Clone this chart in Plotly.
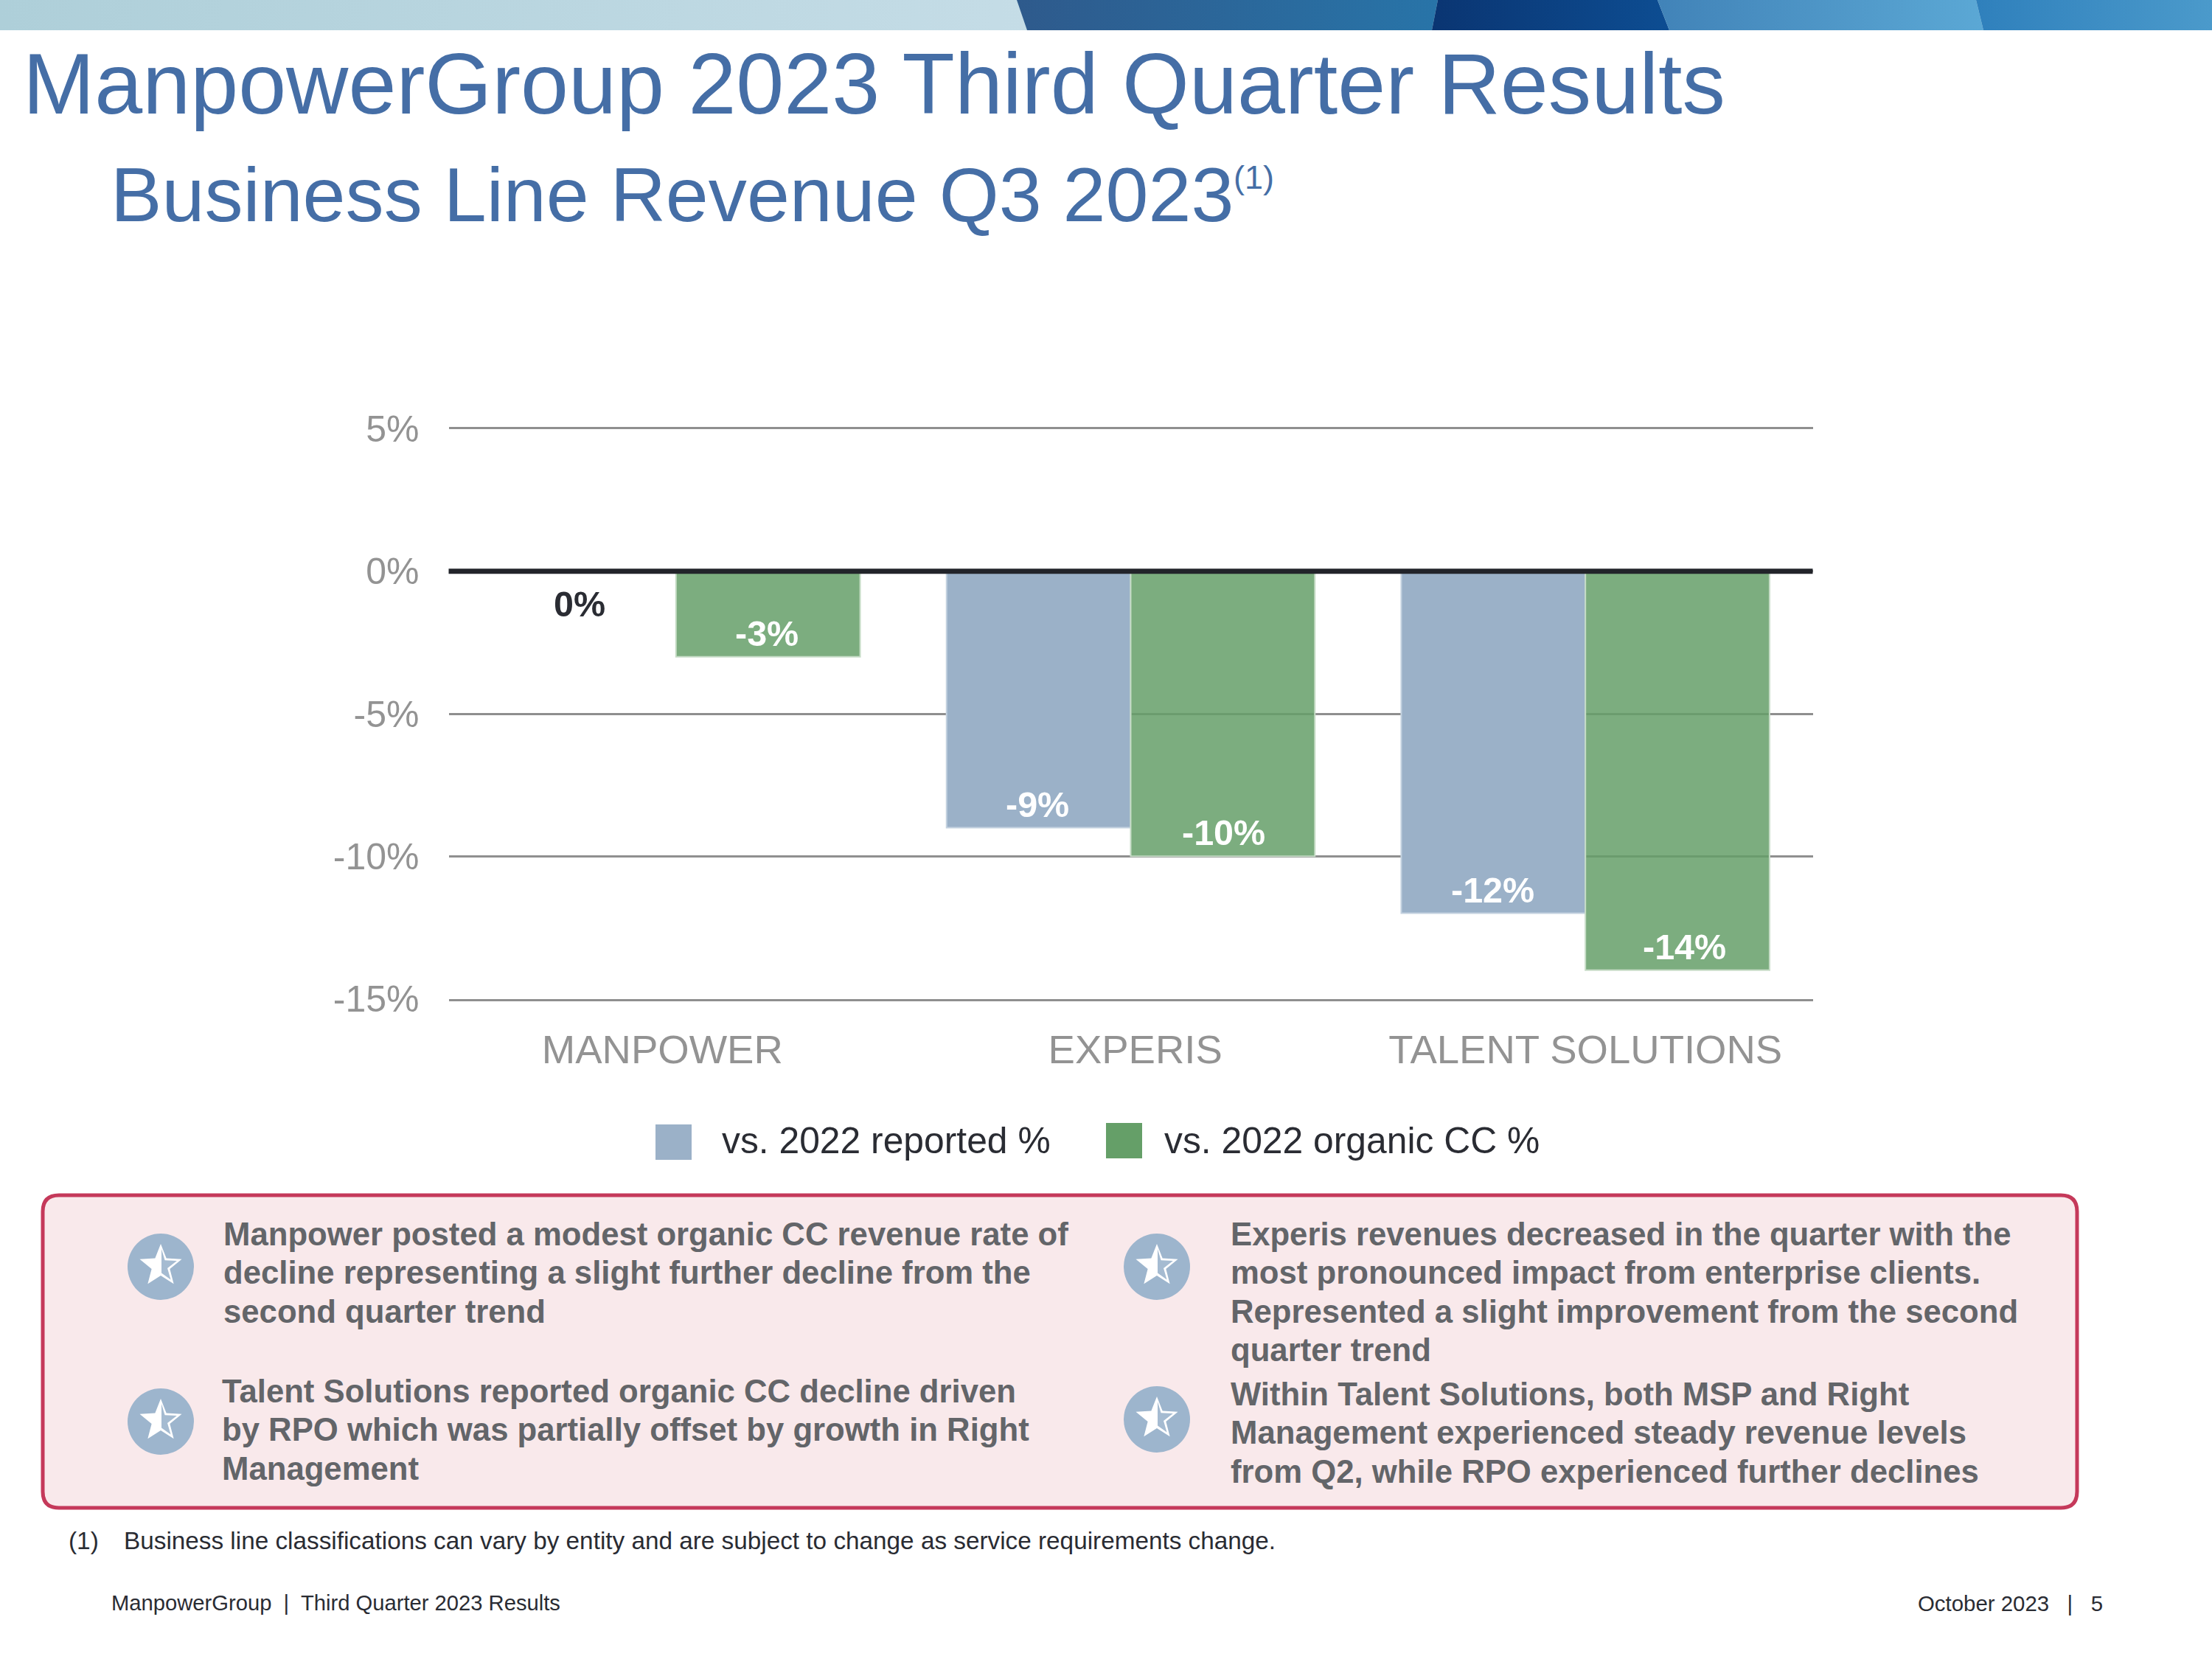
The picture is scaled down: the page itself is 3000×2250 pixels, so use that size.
import base64
import math
import plotly.graph_objects as go

# ---------- data ----------
categories = ["MANPOWER", "EXPERIS", "TALENT SOLUTIONS"]
reported = [0, -9, -12]
organic = [-3, -10, -14]
series_names = ["vs. 2022 reported %", "vs. 2022 organic CC %"]
y_ticks = [5, 0, -5, -10, -15]
y_labels = ["5%", "0%", "-5%", "-10%", "-15%"]
title_text = "ManpowerGroup 2023 Third Quarter Results"
subtitle_text = "Business Line Revenue Q3 2023"
bullet_tl = ["Manpower posted a modest organic CC revenue rate of",
             "decline representing a slight further decline from the",
             "second quarter trend"]
bullet_tr = ["Experis revenues decreased in the quarter with the",
             "most pronounced impact from enterprise clients.",
             "Represented a slight improvement from the second",
             "quarter trend"]
bullet_bl = ["Talent Solutions reported organic CC decline driven",
             "by RPO which was partially offset by growth in Right",
             "Management"]
bullet_br = ["Within Talent Solutions, both MSP and Right",
             "Management experienced steady revenue levels",
             "from Q2, while RPO experienced further declines"]
footnote_mark = "(1)"
footnote_text = "Business line classifications can vary by entity and are subject to change as service requirements change."
footer_left = "ManpowerGroup  |  Third Quarter 2023 Results"
footer_right = "October 2023   |   5"

# ---------- style / layout ----------
W, H = 3000, 2250
FONT = "Liberation Sans, Arial, sans-serif"
BLUE = "#9BB1C8"
GREEN = "#659F68"
GREEN_A = "rgba(101,159,104,0.85)"
TITLE_C = "#456EA6"
GREY = "#939393"
BODY = "#636569"
DARK = "#2A2C33"
PLOT_L, PLOT_R, PLOT_T, PLOT_B = 608.5, 2458.5, 581.5, 1354.5
BAR_W = 0.405


def X(p):
    return p / W


def Y(p):
    return 1 - p / H


annotations = []
shapes = []
images = []


def label(text, x, y, size, color, bold=False, anchor="left"):
    annotations.append(dict(
        text=f"<b>{text}</b>" if bold else text, xref="paper", yref="paper",
        x=X(x), y=Y(y), xanchor=anchor, yanchor="middle", showarrow=False,
        font=dict(family=FONT, size=size, color=color)))


# top banner (decorative gradient strip)
svg = f'''<svg xmlns="http://www.w3.org/2000/svg" width="3000" height="41" viewBox="0 0 3000 41">
<defs>
<linearGradient id="a"><stop offset="0" stop-color="#AECFD9"/><stop offset="0.45" stop-color="#C4DCE6"/><stop offset="1" stop-color="#DAE9EF"/></linearGradient>
<linearGradient id="b"><stop offset="0" stop-color="#2E5A8C"/><stop offset="1" stop-color="#2874A8"/></linearGradient>
<linearGradient id="c"><stop offset="0" stop-color="#0A3572"/><stop offset="1" stop-color="#0D4D92"/></linearGradient>
<linearGradient id="d"><stop offset="0" stop-color="#4183B8"/><stop offset="1" stop-color="#5BA8D5"/></linearGradient>
<linearGradient id="e"><stop offset="0" stop-color="#2F80BC"/><stop offset="1" stop-color="#4B9ACB"/></linearGradient>
</defs>
<rect width="3000" height="41" fill="url(#a)"/>
<polygon points="1379,0 1950,0 1942,41 1393,41" fill="url(#b)"/>
<polygon points="1950,0 2248,0 2264,41 1942,41" fill="url(#c)"/>
<polygon points="2248,0 2680,0 2690,41 2264,41" fill="url(#d)"/>
<polygon points="2680,0 3000,0 3000,41 2690,41" fill="url(#e)"/>
</svg>'''
images.append(dict(
    source="data:image/svg+xml;base64," + base64.b64encode(svg.encode()).decode(),
    xref="paper", yref="paper", x=0, y=1, sizex=1, sizey=41 / H,
    xanchor="left", yanchor="top", sizing="stretch", layer="below"))

# titles
label(title_text, 29, 114, 116.8, TITLE_C)
label(subtitle_text, 148, 264, 104.2, TITLE_C)
label(footnote_mark, 1671, 240, 45, TITLE_C)

# call-out box
x0, x1, y0, y1, r = 58, 2817, 1621, 2045, 22
shapes.append(dict(
    type="path", xref="paper", yref="paper", layer="below",
    path=(f"M{X(x0+r)},{Y(y0)} L{X(x1-r)},{Y(y0)} Q{X(x1)},{Y(y0)} {X(x1)},{Y(y0+r)} "
          f"L{X(x1)},{Y(y1-r)} Q{X(x1)},{Y(y1)} {X(x1-r)},{Y(y1)} "
          f"L{X(x0+r)},{Y(y1)} Q{X(x0)},{Y(y1)} {X(x0)},{Y(y1-r)} "
          f"L{X(x0)},{Y(y0+r)} Q{X(x0)},{Y(y0)} {X(x0+r)},{Y(y0)} Z"),
    fillcolor="#F9E9EB", line=dict(color="#C5395A", width=5)))


def star_path(cx, cy, R, ri, half=False):
    pts = []
    for i in range(10):
        rad = R if i % 2 == 0 else ri
        a = -math.pi / 2 + i * math.pi / 5
        pts.append((cx + rad * math.cos(a), cy + rad * math.sin(a)))
    if half:
        pts = [(max(cx + 1, px), py) for px, py in pts]
    return "M" + " L".join(f"{X(px)},{Y(py)}" for px, py in pts) + " Z"


def icon(cx, cy):
    R = 45
    shapes.append(dict(type="circle", xref="paper", yref="paper", layer="above",
                       x0=X(cx - R), x1=X(cx + R), y0=Y(cy + R), y1=Y(cy - R),
                       fillcolor="#9DB5CD", line=dict(width=0)))
    shapes.append(dict(type="path", xref="paper", yref="paper", layer="above",
                       path=star_path(cx, cy - 1, 30, 13), fillcolor="white", line=dict(width=0)))
    shapes.append(dict(type="path", xref="paper", yref="paper", layer="above",
                       path=star_path(cx, cy - 1, 23, 9.5, half=True), fillcolor="#A5BBD1", line=dict(width=0)))


for cx, cy in [(218, 1718), (1569, 1718), (218, 1928), (1569, 1925)]:
    icon(cx, cy)


def block(lines, x, y, step=52.6):
    for i, t in enumerate(lines):
        label(t, x, y + i * step, 43.7, BODY, bold=True)


block(bullet_tl, 301, 1673)
block(bullet_tr, 1667, 1673)
block(bullet_bl, 299, 1886)
block(bullet_br, 1667, 1890)

# footnote + footer
label(footnote_mark, 91, 2089, 33.4, DARK)
label(footnote_text, 166, 2089, 33.3, DARK)
label(footer_left, 149, 2174, 29.2, DARK)
label(footer_right, 2599, 2174, 29.4, DARK)

# legend with large swatches, as in the reference
for sx, sy, col, name, tx in [(889, 1525, BLUE, series_names[0], 977),
                              (1500, 1523, GREEN, series_names[1], 1577)]:
    shapes.append(dict(type="rect", xref="paper", yref="paper", x0=X(sx), x1=X(sx + 49),
                       y0=Y(sy + 48), y1=Y(sy), fillcolor=col, line=dict(width=0)))
    label(name, tx, 1547, 49.8, DARK)

# zero baseline drawn over the bars
shapes.append(dict(type="line", xref="x domain", yref="y", x0=0, x1=1, y0=0, y1=0,
                   layer="above", line=dict(color="#22242A", width=7)))

x_idx = list(range(len(categories)))
off = BAR_W / 2

fig = go.Figure()
fig.add_bar(x=x_idx, y=reported, name=series_names[0], offsetgroup=0,
            marker=dict(color=BLUE, line=dict(color="#C4D2E0", width=2)))
fig.add_bar(x=x_idx, y=organic, name=series_names[1], offsetgroup=1,
            marker=dict(color=GREEN_A, line=dict(color="#C6DCC6", width=2)))

# data labels
nudge = {(0, -1): -6, (0, 1): -2, (1, -1): -2, (1, 1): 1, (2, -1): -1, (2, 1): 9}
for i in x_idx:
    for val, sign in ((reported[i], -1), (organic[i], 1)):
        zero = val == 0
        annotations.append(dict(
            xref="x", yref="y", x=i + sign * off, y=val,
            yshift=-44 if zero else 32, xshift=nudge[(i, sign)],
            text=f"<b>{val}%</b>", showarrow=False,
            font=dict(family=FONT, size=48.5, color=DARK if zero else "white")))

fig.update_layout(
    width=W, height=H, margin=dict(l=0, r=0, t=0, b=0, pad=0, autoexpand=False),
    paper_bgcolor="white", plot_bgcolor="white",
    barmode="group", bargap=0.19, bargroupgap=0, showlegend=False,
    font=dict(family=FONT),
    annotations=annotations, shapes=shapes, images=images,
    xaxis=dict(domain=[X(PLOT_L), X(PLOT_R)], range=[-0.5, 2.5], showgrid=False, zeroline=False,
               showline=True, mirror=True, linecolor="#8F8F8F", linewidth=3,
               tickmode="array", tickvals=[-0.03, 1.01, 2], ticktext=categories, ticks="",
               tickfont=dict(family=FONT, size=54.5, color=GREY), ticklabelstandoff=19),
    yaxis=dict(domain=[Y(PLOT_B), Y(PLOT_T)], range=[-15, 5], zeroline=False,
               tickmode="array", tickvals=y_ticks, ticktext=y_labels, ticks="",
               showgrid=True, gridcolor="#8F8F8F", gridwidth=3,
               tickfont=dict(family=FONT, size=50, color=GREY), ticklabelstandoff=39),
)

fig.write_html("out.html", config=dict(displayModeBar=False),
               post_script="document.body.style.margin='0';document.documentElement.style.overflow='hidden';")
